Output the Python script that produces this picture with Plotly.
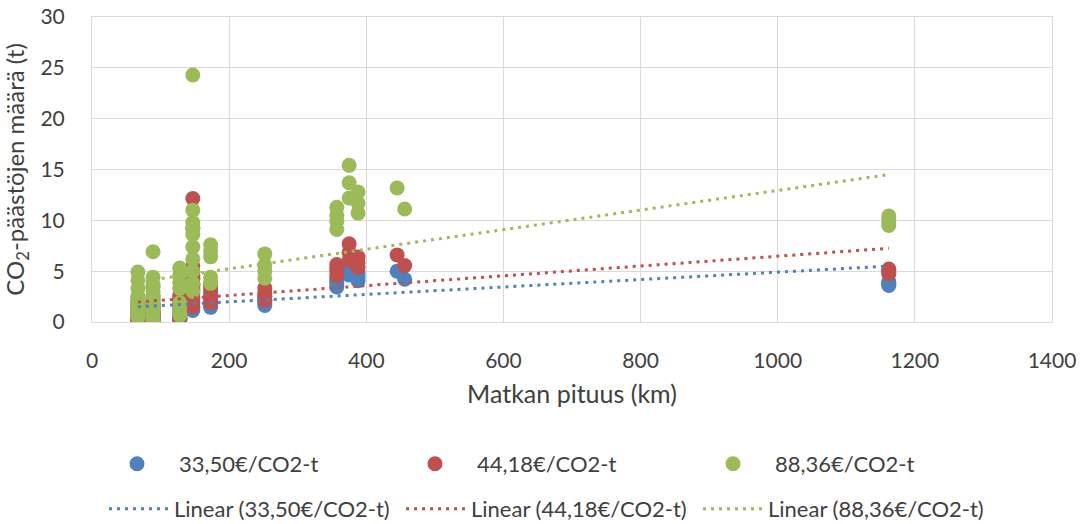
import numpy as np
import plotly.graph_objects as go

# Trip length (km)
distance_km = [
    67, 67, 67, 67, 67, 67, 67, 67, 67, 67, 67, 67, 67, 67, 67,
    89, 89, 89, 89, 89, 89, 89, 89, 89, 89, 89, 89, 89, 89,
    128, 128, 128, 128, 128, 128, 128, 128, 128, 128,
    147, 147, 147, 147, 147, 147, 147, 147, 147, 147,
    173, 173, 173, 173, 173,
    252, 252, 252, 252,
    357, 357, 357, 357,
    375, 375, 375,
    388, 388, 388,
    445,
    456,
    1162, 1162, 1162, 1162,
]

# CO2 amounts (t) per price level
co2_3350 = [
    1.86, 1.55, 1.25, 0.95, 0.75, 0.60, 0.50, 0.42, 0.35, 0.30, 0.26, 0.25, 0.22, 0.20, 0.18,
    2.62, 1.67, 1.40, 1.15, 0.95, 0.80, 0.65, 0.55, 0.45, 0.38, 0.30, 0.22, 0.12, 0.06,
    2.01, 1.74, 1.48, 1.25, 0.72, 0.57, 0.45, 0.34, 0.30, 0.25,
    9.21, 4.17, 3.71, 3.49, 3.26, 2.80, 2.35, 1.89, 1.44, 1.14,
    2.88, 2.65, 2.43, 1.67, 1.44,
    2.54, 2.12, 1.90, 1.63,
    4.28, 3.98, 3.75, 3.45,
    5.84, 5.19, 4.62,
    4.85, 4.44, 4.06,
    5.00,
    4.21,
    3.95, 3.85, 3.70, 3.60,
]
co2_4418 = [
    2.45, 2.04, 1.65, 1.25, 0.99, 0.79, 0.66, 0.55, 0.46, 0.40, 0.34, 0.33, 0.29, 0.26, 0.24,
    3.46, 2.20, 1.85, 1.52, 1.25, 1.06, 0.86, 0.73, 0.59, 0.50, 0.40, 0.29, 0.16, 0.08,
    2.65, 2.30, 1.95, 1.65, 0.95, 0.75, 0.59, 0.45, 0.40, 0.33,
    12.15, 5.50, 4.89, 4.60, 4.30, 3.69, 3.10, 2.49, 1.90, 1.50,
    3.80, 3.50, 3.21, 2.20, 1.90,
    3.35, 2.80, 2.51, 2.15,
    5.65, 5.25, 4.95, 4.55,
    7.70, 6.85, 6.09,
    6.40, 5.86, 5.36,
    6.60,
    5.55,
    5.21, 5.08, 4.88, 4.75,
]
co2_8836 = [
    4.91, 4.09, 3.30, 2.51, 1.98, 1.58, 1.32, 1.11, 0.92, 0.79, 0.69, 0.66, 0.58, 0.53, 0.47,
    6.91, 4.41, 3.69, 3.03, 2.51, 2.11, 1.71, 1.45, 1.19, 1.00, 0.79, 0.58, 0.32, 0.16,
    5.30, 4.59, 3.90, 3.30, 1.90, 1.50, 1.19, 0.90, 0.79, 0.66,
    24.30, 11.00, 9.79, 9.20, 8.60, 7.39, 6.20, 4.99, 3.80, 3.01,
    7.60, 6.99, 6.41, 4.41, 3.80,
    6.70, 5.59, 5.01, 4.30,
    11.29, 10.50, 9.89, 9.10,
    15.41, 13.69, 12.19,
    12.79, 11.71, 10.71,
    13.19,
    11.11,
    10.42, 10.16, 9.76, 9.50,
]

series_names = ["33,50€/CO2-t", "44,18€/CO2-t", "88,36€/CO2-t"]
series_values = [co2_3350, co2_4418, co2_8836]
colors = ["#4f81bd", "#c0504d", "#9bbb59"]

FONT = "Lato"
TXT = "#404040"

fig = go.Figure()
for name, vals, col in zip(series_names, series_values, colors):
    fig.add_trace(go.Scatter(
        x=distance_km, y=vals, mode="markers", name=name,
        marker=dict(color=col, size=15, line=dict(width=0)),
        legend="legend",
    ))

# Linear trendlines (least squares) over the data range
x_arr = np.array(distance_km, dtype=float)
x_line = np.array([x_arr.min(), x_arr.max()])
for name, vals, col in zip(series_names, series_values, colors):
    slope, intercept = np.polyfit(x_arr, np.array(vals), 1)
    fig.add_trace(go.Scatter(
        x=x_line, y=slope * x_line + intercept, mode="lines",
        name=f"Linear ({name})",
        line=dict(color=col, width=3, dash="3px,5px"),
        legend="legend2",
    ))

plot_l, plot_r, plot_t, plot_b = 92, 1052, 17, 322
W, H = 1081, 524
pw = plot_r - plot_l
ph = plot_b - plot_t


def px_x(p):
    return (p - plot_l) / pw


def px_y(p):
    return (plot_b - p) / ph


fig.update_layout(
    width=W, height=H,
    margin=dict(l=plot_l, r=W - plot_r, t=plot_t, b=H - plot_b, autoexpand=False),
    paper_bgcolor="white", plot_bgcolor="white",
    font=dict(family=FONT, size=20, color=TXT),
    legend=dict(
        orientation="h", x=px_x(95), xanchor="left", y=px_y(464), yanchor="middle",
        itemwidth=74, entrywidth=209, entrywidthmode="pixels",
        font=dict(family=FONT, size=22, color=TXT), bgcolor="rgba(0,0,0,0)",
    ),
    legend2=dict(
        orientation="h", x=px_x(104), xanchor="left", y=px_y(509), yanchor="middle",
        itemwidth=60, entrywidth=222, entrywidthmode="pixels",
        font=dict(family=FONT, size=22, color=TXT), bgcolor="rgba(0,0,0,0)",
    ),
    showlegend=True,
)
fig.update_xaxes(
    range=[0, 1400], dtick=200, tick0=0,
    showgrid=True, gridcolor="#d9d9d9", gridwidth=1,
    showline=True, linecolor="#d9d9d9", linewidth=1, mirror=True,
    zeroline=False, ticks="", ticklabelstandoff=20,
    tickfont=dict(family=FONT, size=21, color=TXT),
    title=dict(text="Matkan pituus (km)", standoff=14,
               font=dict(family=FONT, size=25, color=TXT)),
)
fig.update_yaxes(
    range=[0, 30], dtick=5, tick0=0,
    showgrid=True, gridcolor="#d9d9d9", gridwidth=1,
    showline=True, linecolor="#d9d9d9", linewidth=1, mirror=True,
    zeroline=False, ticks="", ticklabelstandoff=22,
    tickfont=dict(family=FONT, size=21, color=TXT),
    title=dict(text="CO<sub>2</sub>-päästöjen määrä (t)", standoff=10,
               font=dict(family=FONT, size=24, color=TXT)),
)

fig.write_html("out.html")
